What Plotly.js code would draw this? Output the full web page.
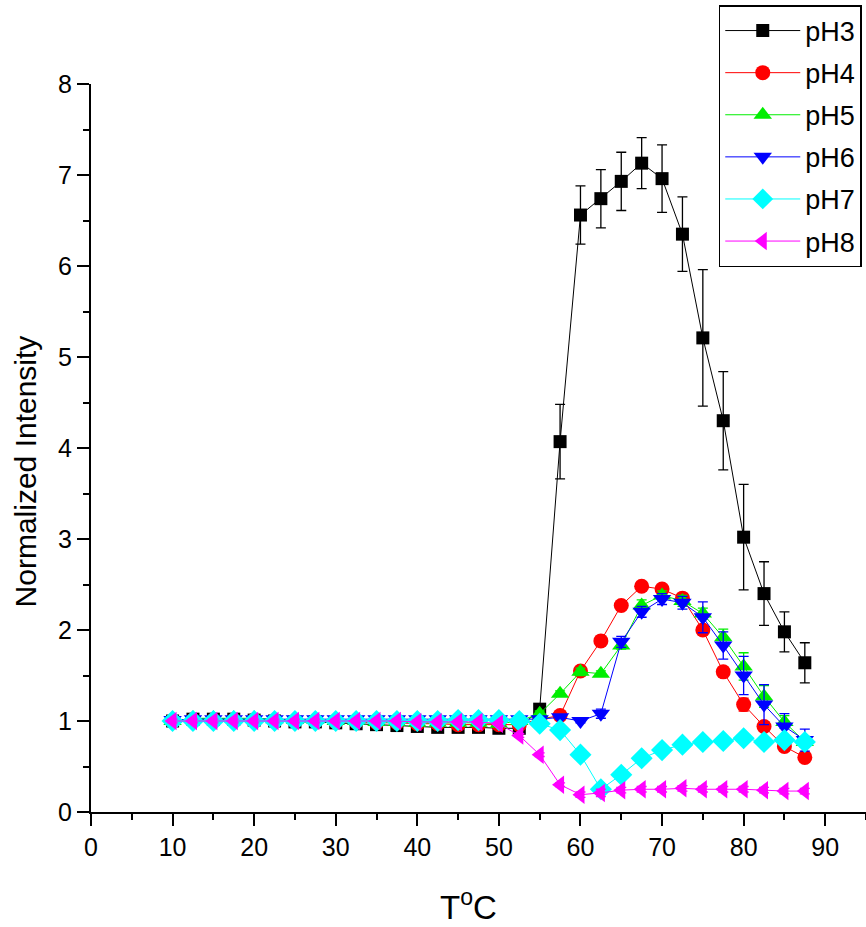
<!DOCTYPE html>
<html>
<head>
<meta charset="utf-8">
<script src="https://cdn.plot.ly/plotly-3.0.1.min.js"></script>
<style>
  html, body { margin: 0; padding: 0; background: #fff; }
  #chart { width: 866px; height: 927px; }
</style>
</head>
<body>
<div id="chart"></div>
<script>
// Temperature steps (°C)
const temps = [10, 12.5, 15, 17.5, 20, 22.5, 25, 27.5, 30, 32.5, 35, 37.5, 40, 42.5, 45, 47.5,
               50, 52.5, 55, 57.5, 60, 62.5, 65, 67.5, 70, 72.5, 75, 77.5, 80, 82.5, 85, 87.5];

// Normalized intensity per pH
const pH3 = [1.00, 1.02, 1.02, 1.02, 1.01, 1.00, 0.99, 0.99, 0.98, 0.97, 0.96, 0.95, 0.94, 0.93, 0.93, 0.93,
             0.92, 0.92, 1.13, 4.07, 6.56, 6.74, 6.93, 7.13, 6.96, 6.35, 5.21, 4.30, 3.02, 2.40, 1.98, 1.64];
const pH4 = [1.00, 1.01, 1.01, 1.01, 1.01, 1.00, 1.00, 1.00, 0.99, 0.99, 0.98, 0.98, 0.97, 0.97, 0.96, 0.96,
             0.96, 0.96, 1.02, 1.06, 1.55, 1.88, 2.27, 2.48, 2.45, 2.35, 2.00, 1.54, 1.18, 0.94, 0.72, 0.60];
const pH5 = [1.00, 1.03, 1.03, 1.03, 1.03, 1.02, 1.01, 1.01, 1.00, 1.00, 0.99, 0.99, 0.98, 0.98, 0.98, 0.98,
             0.97, 1.00, 1.08, 1.30, 1.54, 1.52, 1.83, 2.27, 2.38, 2.32, 2.18, 1.92, 1.60, 1.27, 0.99, 0.77];
const pH6 = [1.01, 1.02, 1.02, 1.02, 1.02, 1.02, 1.02, 1.02, 1.02, 1.02, 1.02, 1.02, 1.02, 1.02, 1.02, 1.02,
             1.02, 1.02, 1.02, 1.04, 1.00, 1.08, 1.87, 2.20, 2.34, 2.30, 2.14, 1.83, 1.50, 1.18, 0.94, 0.79];
const pH7 = [1.00, 1.00, 1.00, 1.00, 1.00, 1.00, 1.00, 1.00, 1.00, 1.00, 1.00, 1.00, 1.00, 1.00, 1.01, 1.01,
             1.01, 1.00, 0.97, 0.90, 0.63, 0.25, 0.41, 0.59, 0.68, 0.74, 0.77, 0.78, 0.81, 0.77, 0.79, 0.77];
const pH8 = [1.00, 1.00, 1.00, 1.00, 1.00, 1.00, 1.00, 1.00, 1.00, 1.00, 1.00, 1.00, 0.99, 0.99, 0.99, 0.99,
             0.97, 0.84, 0.63, 0.30, 0.19, 0.21, 0.24, 0.25, 0.25, 0.26, 0.25, 0.25, 0.25, 0.24, 0.23, 0.23];

// Standard deviations (error bars)
const pH3err = [0.02, 0.02, 0.02, 0.02, 0.02, 0.02, 0.02, 0.02, 0.02, 0.02, 0.02, 0.02, 0.02, 0.02, 0.02, 0.02,
                0.02, 0.02, 0.05, 0.41, 0.32, 0.32, 0.32, 0.28, 0.37, 0.41, 0.75, 0.54, 0.58, 0.35, 0.22, 0.22];
const pH4err = [0.02, 0.02, 0.02, 0.02, 0.02, 0.02, 0.02, 0.02, 0.02, 0.02, 0.02, 0.02, 0.02, 0.02, 0.02, 0.02,
                0.02, 0.02, 0.02, 0.03, 0.04, 0.03, 0.03, 0.03, 0.03, 0.04, 0.05, 0.05, 0.07, 0.05, 0.04, 0.04];
const pH5err = [0.02, 0.02, 0.02, 0.02, 0.02, 0.02, 0.02, 0.02, 0.02, 0.02, 0.02, 0.02, 0.02, 0.02, 0.02, 0.02,
                0.02, 0.02, 0.03, 0.03, 0.04, 0.03, 0.04, 0.06, 0.05, 0.06, 0.06, 0.09, 0.15, 0.12, 0.07, 0.06];
const pH6err = [0.02, 0.02, 0.02, 0.02, 0.02, 0.02, 0.02, 0.02, 0.02, 0.02, 0.02, 0.02, 0.02, 0.02, 0.02, 0.02,
                0.02, 0.02, 0.02, 0.02, 0.02, 0.05, 0.06, 0.06, 0.06, 0.07, 0.17, 0.15, 0.21, 0.22, 0.14, 0.12];
const pH7err = [0.02, 0.02, 0.02, 0.02, 0.02, 0.02, 0.02, 0.02, 0.02, 0.02, 0.02, 0.02, 0.02, 0.02, 0.02, 0.02,
                0.02, 0.02, 0.02, 0.02, 0.02, 0.04, 0.02, 0.02, 0.02, 0.02, 0.02, 0.02, 0.02, 0.02, 0.02, 0.02];
const pH8err = [0.02, 0.02, 0.02, 0.02, 0.02, 0.02, 0.02, 0.02, 0.02, 0.02, 0.02, 0.02, 0.02, 0.02, 0.02, 0.02,
                0.02, 0.02, 0.02, 0.02, 0.03, 0.04, 0.03, 0.03, 0.03, 0.03, 0.03, 0.03, 0.03, 0.03, 0.03, 0.03];

const seriesNames = ['pH3', 'pH4', 'pH5', 'pH6', 'pH7', 'pH8'];
const seriesY = [pH3, pH4, pH5, pH6, pH7, pH8];
const seriesErr = [pH3err, pH4err, pH5err, pH6err, pH7err, pH8err];
const colors = ['#000000', '#ff0000', '#00ee00', '#0000ff', '#00ffff', '#ff00ff'];
const symbols = ['square', 'circle', 'triangle-up', 'triangle-down', 'diamond', 'triangle-left'];
const sizes = [13, 15, 16, 16, 17, 16];

const traces = seriesNames.map((name, i) => ({
  type: 'scatter',
  mode: 'lines+markers',
  name: name,
  legendgroup: name,
  x: temps,
  y: seriesY[i],
  error_y: { type: 'data', array: seriesErr[i], visible: true, color: colors[i], thickness: 1.3, width: 5 },
  line: { color: colors[i], width: 1 },
  marker: { symbol: symbols[i], size: sizes[i], color: colors[i], line: { width: 0 } },
  cliponaxis: false
}));

const FONT = 'Liberation Sans, Arial, sans-serif';

const layout = {
  width: 866,
  height: 927,
  margin: { l: 91, r: 0, t: 84, b: 115 },
  paper_bgcolor: '#fff',
  plot_bgcolor: '#fff',
  showlegend: true,
  legend: {
    x: 0.81, y: 1.1085, xanchor: 'left', yanchor: 'top',
    bgcolor: '#fff', bordercolor: '#000', borderwidth: 1.5,
    font: { family: FONT, size: 27, color: '#000' },
    itemwidth: 75,
    traceorder: 'grouped',
    tracegroupgap: 4
  },
  xaxis: {
    range: [0, 95],
    tickmode: 'linear', tick0: 0, dtick: 10,
    ticks: 'outside', ticklen: 12, tickwidth: 2, tickcolor: '#000',
    minor: { dtick: 5, ticks: 'outside', ticklen: 6, tickwidth: 2, tickcolor: '#000', showgrid: false },
    showline: true, linecolor: '#000', linewidth: 2,
    showgrid: false, zeroline: false,
    tickfont: { family: FONT, size: 25, color: '#000' }
  },
  yaxis: {
    range: [0, 8],
    tickmode: 'linear', tick0: 0, dtick: 1,
    ticks: 'outside', ticklen: 12, tickwidth: 2, tickcolor: '#000',
    minor: { dtick: 0.5, ticks: 'outside', ticklen: 6, tickwidth: 2, tickcolor: '#000', showgrid: false },
    showline: true, linecolor: '#000', linewidth: 2,
    showgrid: false, zeroline: false,
    tickfont: { family: FONT, size: 25, color: '#000' }
  },
  annotations: [
    {
      text: 'Normalized Intensity',
      xref: 'paper', yref: 'paper',
      x: -0.085, y: 0.468,
      xanchor: 'center', yanchor: 'middle',
      textangle: -90,
      showarrow: false,
      font: { family: FONT, size: 30, color: '#000' }
    },
    {
      text: 'T<sup>o</sup>C',
      xref: 'paper', yref: 'paper',
      x: 0.4877, y: -0.128,
      xanchor: 'center', yanchor: 'middle',
      showarrow: false,
      font: { family: FONT, size: 33, color: '#000' }
    }
  ]
};

Plotly.newPlot('chart', traces, layout, { displayModeBar: false, staticPlot: true });
</script>
</body>
</html>
